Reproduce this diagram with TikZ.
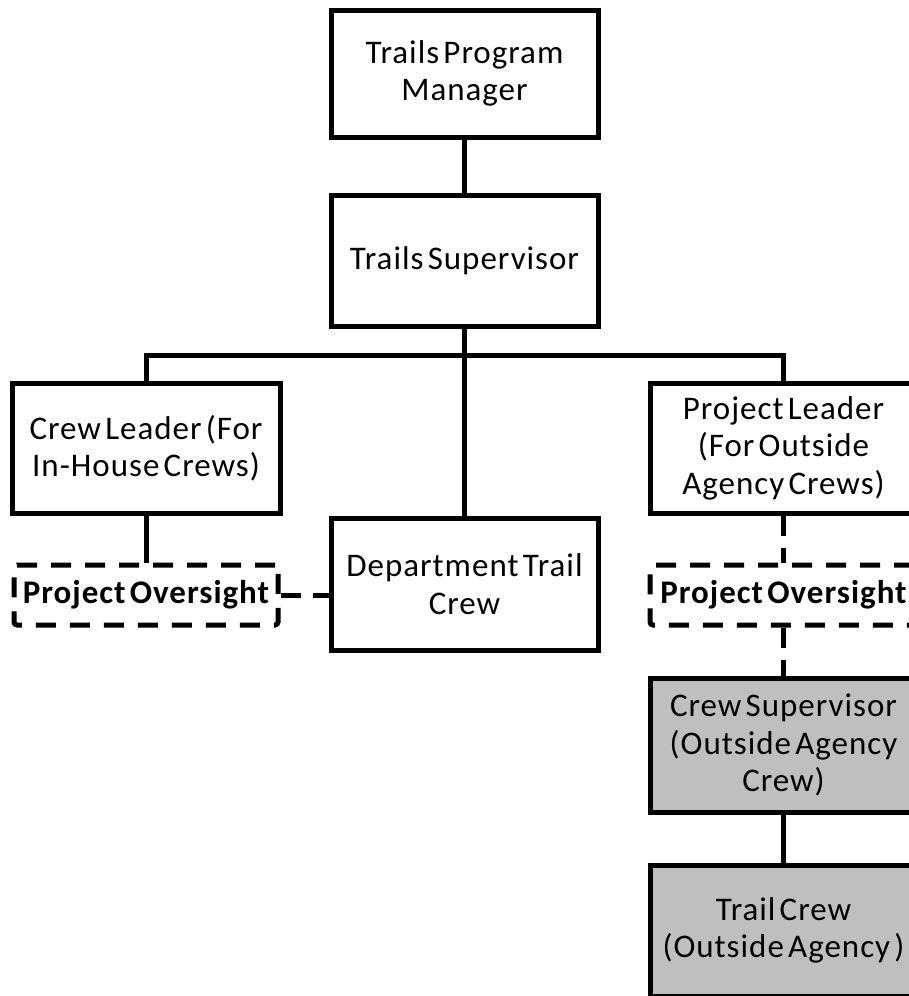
\documentclass[tikz,border=0pt]{standalone}
\usepackage{fontspec}
\setmainfont{Carlito}[WordSpace=0.5, LetterSpace=3]
\usepackage{tikz}
\usepackage{xcolor}

\begin{document}
\begin{tikzpicture}[x=1pt, y=-1pt,
    orgbox/.style={draw, line width=5pt, minimum width=267pt, align=center,
        inner sep=1pt, font=\fontsize{33}{37.5}\selectfont},
    crewbox/.style={orgbox, fill=black!25},
    oversight/.style={draw, line width=5pt, dash pattern=on 20pt off 14pt,
        rounded corners=3pt, minimum height=60pt, align=center, inner sep=1pt,
        font=\bfseries\fontsize{33}{37.5}\selectfont},
    link/.style={line width=5pt},
    dashlink/.style={line width=5pt, dash pattern=on 20pt off 12pt}]
    \useasboundingbox (0,0) rectangle (908,996);
    % boxes
    \node[orgbox, minimum height=127pt] (mgr) at (464.5,73.5) {Trails Program\\Manager};
    \node[orgbox, minimum height=131pt] (sup) at (464.5,260.5) {Trails Supervisor};
    \node[orgbox, minimum width=268pt, minimum height=130pt] (lead) at (146,448) {Crew Leader (For\\In-House Crews)};
    \node[orgbox, minimum height=130pt] (plead) at (783.5,448) {Project Leader\\(For Outside\\Agency Crews)};
    \node[orgbox, minimum height=132pt] (dept) at (464.5,584) {Department Trail\\Crew};
    \node[oversight, minimum width=264pt] (ovl) at (146,595) {Project Oversight};
    \node[oversight, minimum width=267pt] (ovr) at (783.5,595) {Project Oversight};
    \node[crewbox, minimum height=134pt] (csup) at (783.5,745) {Crew Supervisor\\(Outside Agency\\Crew)};
    \node[crewbox, minimum height=131pt] (tcrew) at (783.5,930.5) {Trail Crew\\(Outside Agency )};
    \coordinate (bar) at (464.5,355);
    % connectors
    \draw[link] (mgr.south) -- (sup.north);
    \draw[link] (sup.south) -- (dept.north);
    \draw[link] (lead.north) |- (bar) -| (plead.north);
    \draw[link] (lead.south) -- (ovl.north);
    \draw[link] (csup.south) -- (tcrew.north);
    \draw[dashlink] (ovl.east) -- (ovl.east -| dept.west);
    \draw[dashlink] (plead.south) -- (ovr.north);
    \draw[dashlink] (ovr.south) -- (csup.north);
\end{tikzpicture}
\end{document}
